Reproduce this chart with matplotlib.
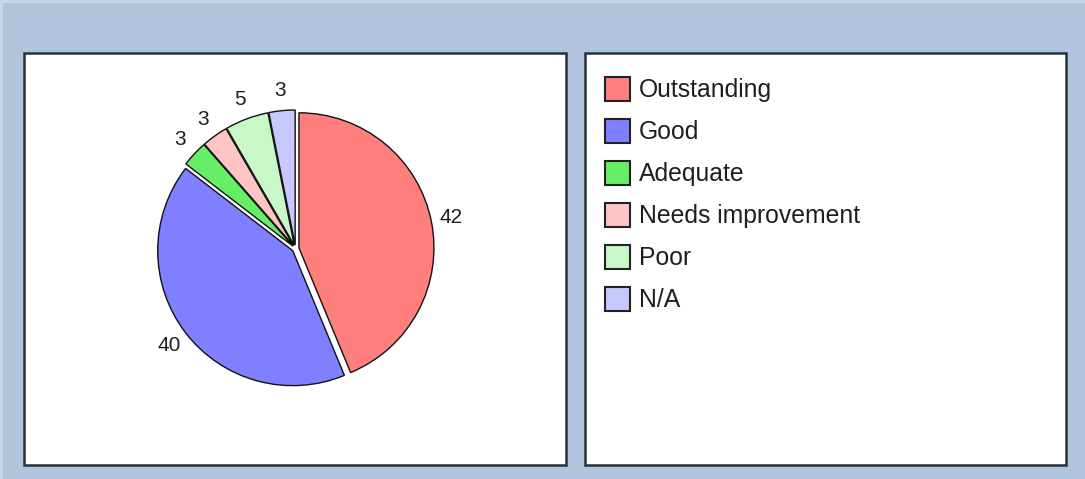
import matplotlib.pyplot as plt
from matplotlib.patches import Rectangle

plt.rcParams['font.family'] = ['Liberation Sans', 'DejaVu Sans']

categories = ["Outstanding", "Good", "Adequate", "Needs improvement", "Poor", "N/A"]
counts = [42, 40, 3, 3, 5, 3]
colors = ["#FF7F7F", "#7F7FFF", "#66EE66", "#FFC4C4", "#C8F8C8", "#C8C8FF"]

W, H = 1085, 479
fig = plt.figure(figsize=(W / 100, H / 100), dpi=100)
fig.patch.set_facecolor("#B0C4DE")
ax = fig.add_axes([0, 0, 1, 1])


def py(y):
    # pixel row (from top) -> data y (from bottom)
    return H - y


# light rim along the top and left of the page
ax.add_patch(Rectangle((0, py(3)), W, 3, facecolor="#C6D4E7", edgecolor="none", zorder=0))
ax.add_patch(Rectangle((0, 0), 3, H, facecolor="#C6D4E7", edgecolor="none", zorder=0))

# the two white panels
for x0, x1 in [(24, 566), (585, 1066)]:
    ax.add_patch(Rectangle((x0, py(465)), x1 - x0, 465 - 53, facecolor="white",
                           edgecolor="#2b2f36", linewidth=1.8, zorder=1))

# explode is in data units here (1 unit = 1 px)
wedges, texts = ax.pie(counts, labels=[str(c) for c in counts], colors=colors,
                       startangle=90, counterclock=False, explode=[3.5] * len(counts),
                       radius=135, center=(295.5, py(248.5)), labeldistance=1.15,
                       wedgeprops=dict(edgecolor="#111111", linewidth=1),
                       textprops=dict(fontsize=15, color="#1e1e1e"), frame=True)
for w in wedges:
    w.set_zorder(2)
for t in texts:
    t.set_ha("center")
    t.set_va("center")
    t.set_zorder(3)

# legend in the right panel
for i, (name, col) in enumerate(zip(categories, colors)):
    yc = 88.7 + 42 * i
    ax.add_patch(Rectangle((604.5, py(yc + 12)), 25, 24, facecolor=col,
                           edgecolor="#222222", linewidth=1.5, zorder=2))
    ax.text(639, py(yc + 8.5), name, fontsize=17.8, ha="left", va="baseline",
            color="#1e1e1e", zorder=3)

ax.set_xlim(0, W)
ax.set_ylim(0, H)
ax.set_aspect("auto")
ax.axis("off")

fig.savefig("out.png", dpi=100, facecolor=fig.get_facecolor())
